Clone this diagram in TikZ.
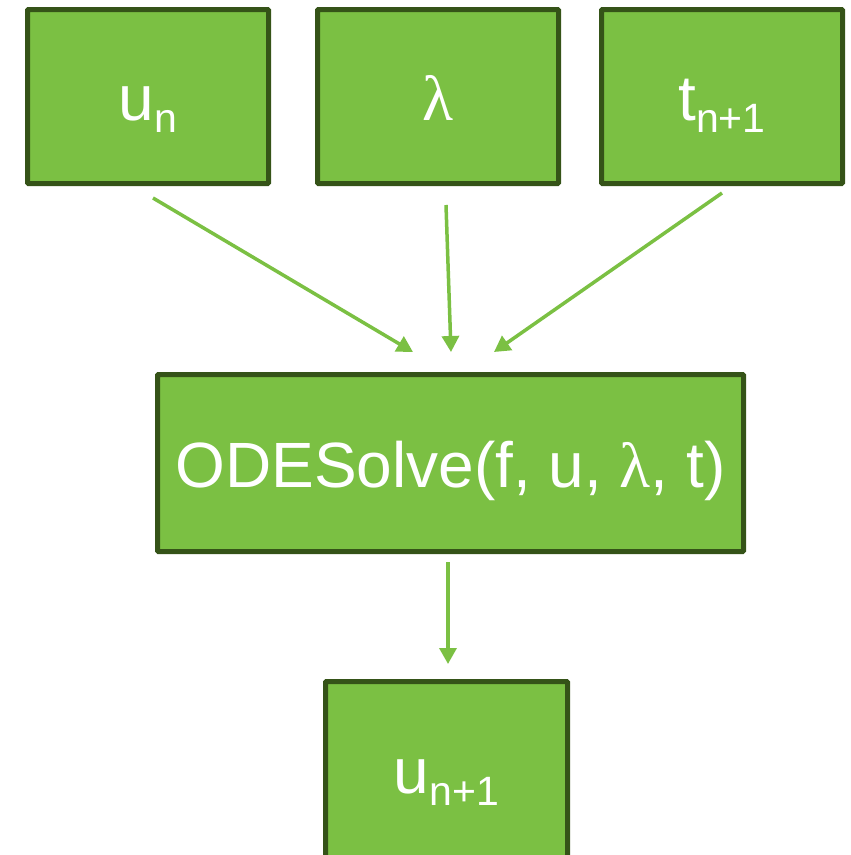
\documentclass[tikz,border=0pt]{standalone}
\usepackage{fontspec}
\setmainfont{Liberation Sans}
\newfontfamily\lamfont{Liberation Serif}
\usetikzlibrary{arrows.meta}
\definecolor{boxfill}{RGB}{123,192,67}
\definecolor{boxline}{RGB}{53,83,24}
\newcommand{\subtxt}[1]{\raisebox{-12pt}{\fontsize{41}{44}\selectfont #1}}
\newcommand{\lam}{{\lamfont λ}}
\begin{document}
\begin{tikzpicture}[x=1pt,y=-1pt,
  box/.style={draw=boxline, line width=5pt, fill=boxfill, rounded corners=1pt,
    text=white, font=\fontsize{64}{68}\selectfont, inner sep=0pt, anchor=center,
    text height=55pt, text depth=7pt},
  conn/.style={draw=boxfill, line width=3.5pt, -{Triangle[length=16pt,width=17pt]}}]
\useasboundingbox (0,0) rectangle (851,855);
\begin{scope}
\clip (0,0) rectangle (851,855);
\node[box, minimum width=241pt, minimum height=174pt] (un) at (148,96.5) {u\subtxt{n}};
\node[box, minimum width=241pt, minimum height=174pt] (lam) at (438,96.5) {\lam};
\node[box, minimum width=241pt, minimum height=174pt] (tn) at (722,96.5) {t\subtxt{n+1}};
\node[box, minimum width=586pt, minimum height=177pt] (ode) at (450.5,463) {ODESolve(f, u, \lam, t)};
\node[box, minimum width=242pt, minimum height=176pt] (out) at (446.5,769.5) {u\subtxt{n+1}};
\end{scope}
\coordinate (a1s) at (153,198);
\coordinate (a1e) at (413,352);
\coordinate (a2s) at (446,205);
\coordinate (a2e) at (451,352);
\coordinate (a3s) at (722,193);
\coordinate (a3e) at (494,352);
\coordinate (a4s) at (448,562);
\coordinate (a4e) at (448,664);
\draw[conn] (a1s) -- (a1e);
\draw[conn] (a2s) -- (a2e);
\draw[conn] (a3s) -- (a3e);
\draw[conn] (a4s) -- (a4e);
\end{tikzpicture}
\end{document}
